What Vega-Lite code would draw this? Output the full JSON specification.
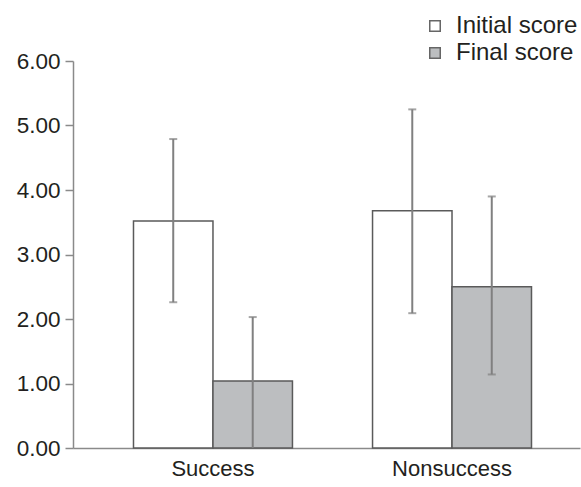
{
  "$schema": "https://vega.github.io/schema/vega-lite/v6.json",
  "width": 507,
  "height": 387,
  "autosize": {"type": "none"},
  "padding": {"left": 73, "top": 61, "right": 1, "bottom": 39},
  "background": "white",
  "config": {
    "view": {"stroke": null},
    "font": "Liberation Sans",
    "axis": {"labelFont": "Liberation Sans", "labelColor": "#231f20", "grid": false}
  },
  "data": {
    "values": [
      {"group": "Success", "score": "Initial score", "value": 3.52, "lo": 2.26, "hi": 4.79},
      {"group": "Success", "score": "Final score", "value": 1.04, "lo": 0.0, "hi": 2.03},
      {"group": "Nonsuccess", "score": "Initial score", "value": 3.68, "lo": 2.09, "hi": 5.25},
      {"group": "Nonsuccess", "score": "Final score", "value": 2.5, "lo": 1.14, "hi": 3.9}
    ]
  },
  "encoding": {
    "x": {
      "field": "group", "type": "nominal", "sort": ["Success", "Nonsuccess"],
      "scale": {"paddingInner": 0.335, "paddingOuter": 0.228, "align": 0.555},
      "axis": {"title": null, "labelAngle": 0, "labelFontSize": 22, "ticks": false, "labelPadding": 10, "domainColor": "#8a8a8a", "domainWidth": 1.5}
    },
    "xOffset": {"field": "score", "type": "nominal", "sort": ["Initial score", "Final score"], "scale": {"paddingInner": 0, "paddingOuter": 0}}
  },
  "layer": [
    {
      "mark": {"type": "bar", "stroke": "#5a5a5a", "strokeWidth": 1.5},
      "encoding": {
        "y": {
          "field": "value", "type": "quantitative",
          "scale": {"domain": [0, 6], "nice": false},
          "axis": {"title": null, "format": ".2f", "values": [0, 1, 2, 3, 4, 5, 6], "labelFontSize": 22.5, "tickSize": 8, "tickColor": "#8a8a8a", "tickWidth": 1.5, "domainColor": "#8a8a8a", "domainWidth": 1.5, "labelPadding": 5}
        },
        "fill": {
          "field": "score", "type": "nominal",
          "sort": ["Initial score", "Final score"],
          "scale": {"domain": ["Initial score", "Final score"], "range": ["#ffffff", "#bcbec0"]},
          "legend": {
            "title": null, "orient": "none", "legendX": 350, "legendY": -47,
            "symbolType": "square", "symbolSize": 110, "symbolStrokeColor": "#666666", "symbolStrokeWidth": 1.5,
            "labelFontSize": 24, "labelColor": "#231f20", "labelOffset": 9, "rowPadding": 3, "labelFont": "Liberation Sans"
          }
        }
      }
    },
    {
      "mark": {"type": "rule", "color": "#808080", "strokeWidth": 2},
      "encoding": {
        "y": {"field": "lo", "type": "quantitative"},
        "y2": {"field": "hi"}
      }
    },
    {
      "mark": {"type": "tick", "color": "#808080", "thickness": 2, "size": 8, "orient": "horizontal"},
      "encoding": {
        "y": {"field": "hi", "type": "quantitative"}
      }
    },
    {
      "transform": [{"filter": "datum.lo > 0"}],
      "mark": {"type": "tick", "color": "#808080", "thickness": 2, "size": 8, "orient": "horizontal"},
      "encoding": {
        "y": {"field": "lo", "type": "quantitative"}
      }
    }
  ]
}
